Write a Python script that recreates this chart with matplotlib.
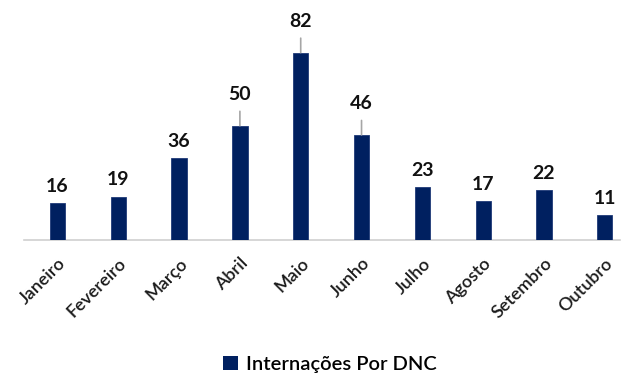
import matplotlib
matplotlib.use('agg')
import matplotlib.pyplot as plt
import numpy as np
from matplotlib.patches import Patch

meses = ['Janeiro', 'Fevereiro', 'Março', 'Abril', 'Maio', 'Junho',
         'Julho', 'Agosto', 'Setembro', 'Outubro']
internacoes = [16, 19, 36, 50, 82, 46, 23, 17, 22, 11]
serie = 'Internações Por DNC'

# rótulos que ficam mais altos, com linha de chamada
com_linha = [3, 4, 5]

azul = '#002060'
plt.rcParams['font.family'] = ['Lato', 'DejaVu Sans']

fig = plt.figure(figsize=(6.29, 3.78), dpi=100)
ax = fig.add_axes([24 / 629, 138 / 378, 596 / 629, 240 / 378])

x = np.arange(len(meses))
ax.bar(x, internacoes, width=0.25, color=azul, edgecolor='#1F3A78', linewidth=0.6, zorder=3)

for i, v in enumerate(internacoes):
    if i in com_linha:
        ax.annotate(str(v), xy=(i, v), xytext=(0, 22.5), textcoords='offset points',
                    ha='center', va='center', fontsize=14, fontweight='bold', color='#111111',
                    arrowprops=dict(arrowstyle='-', color='#A6A6A6', lw=1.2,
                                    shrinkA=4, shrinkB=0))
    else:
        ax.annotate(str(v), xy=(i, v), xytext=(0, 12), textcoords='offset points',
                    ha='center', va='center', fontsize=14, fontweight='bold', color='#111111')

ax.set_xlim(-0.55, len(meses) - 1 + 0.25)
ax.set_ylim(0, 105)
ax.set_yticks([])
ax.set_xticks(x)
ax.set_xticklabels(meses, rotation=45, ha='right', va='top', rotation_mode='anchor',
                   fontsize=13, fontweight='semibold', color='#1A1A1A')
ax.tick_params(axis='x', length=0, pad=11)
for s in ['top', 'right', 'left']:
    ax.spines[s].set_visible(False)
ax.spines['bottom'].set_color('#D0D0D0')
ax.spines['bottom'].set_linewidth(1.2)

fig.legend(handles=[Patch(facecolor=azul, label=serie)], loc='lower center',
           bbox_to_anchor=(0.524, -0.035), frameon=False,
           handlelength=0.75, handleheight=0.75, handletextpad=0.4,
           prop={'size': 14.5, 'weight': 'semibold'})

fig.savefig('out.png', dpi=100)
